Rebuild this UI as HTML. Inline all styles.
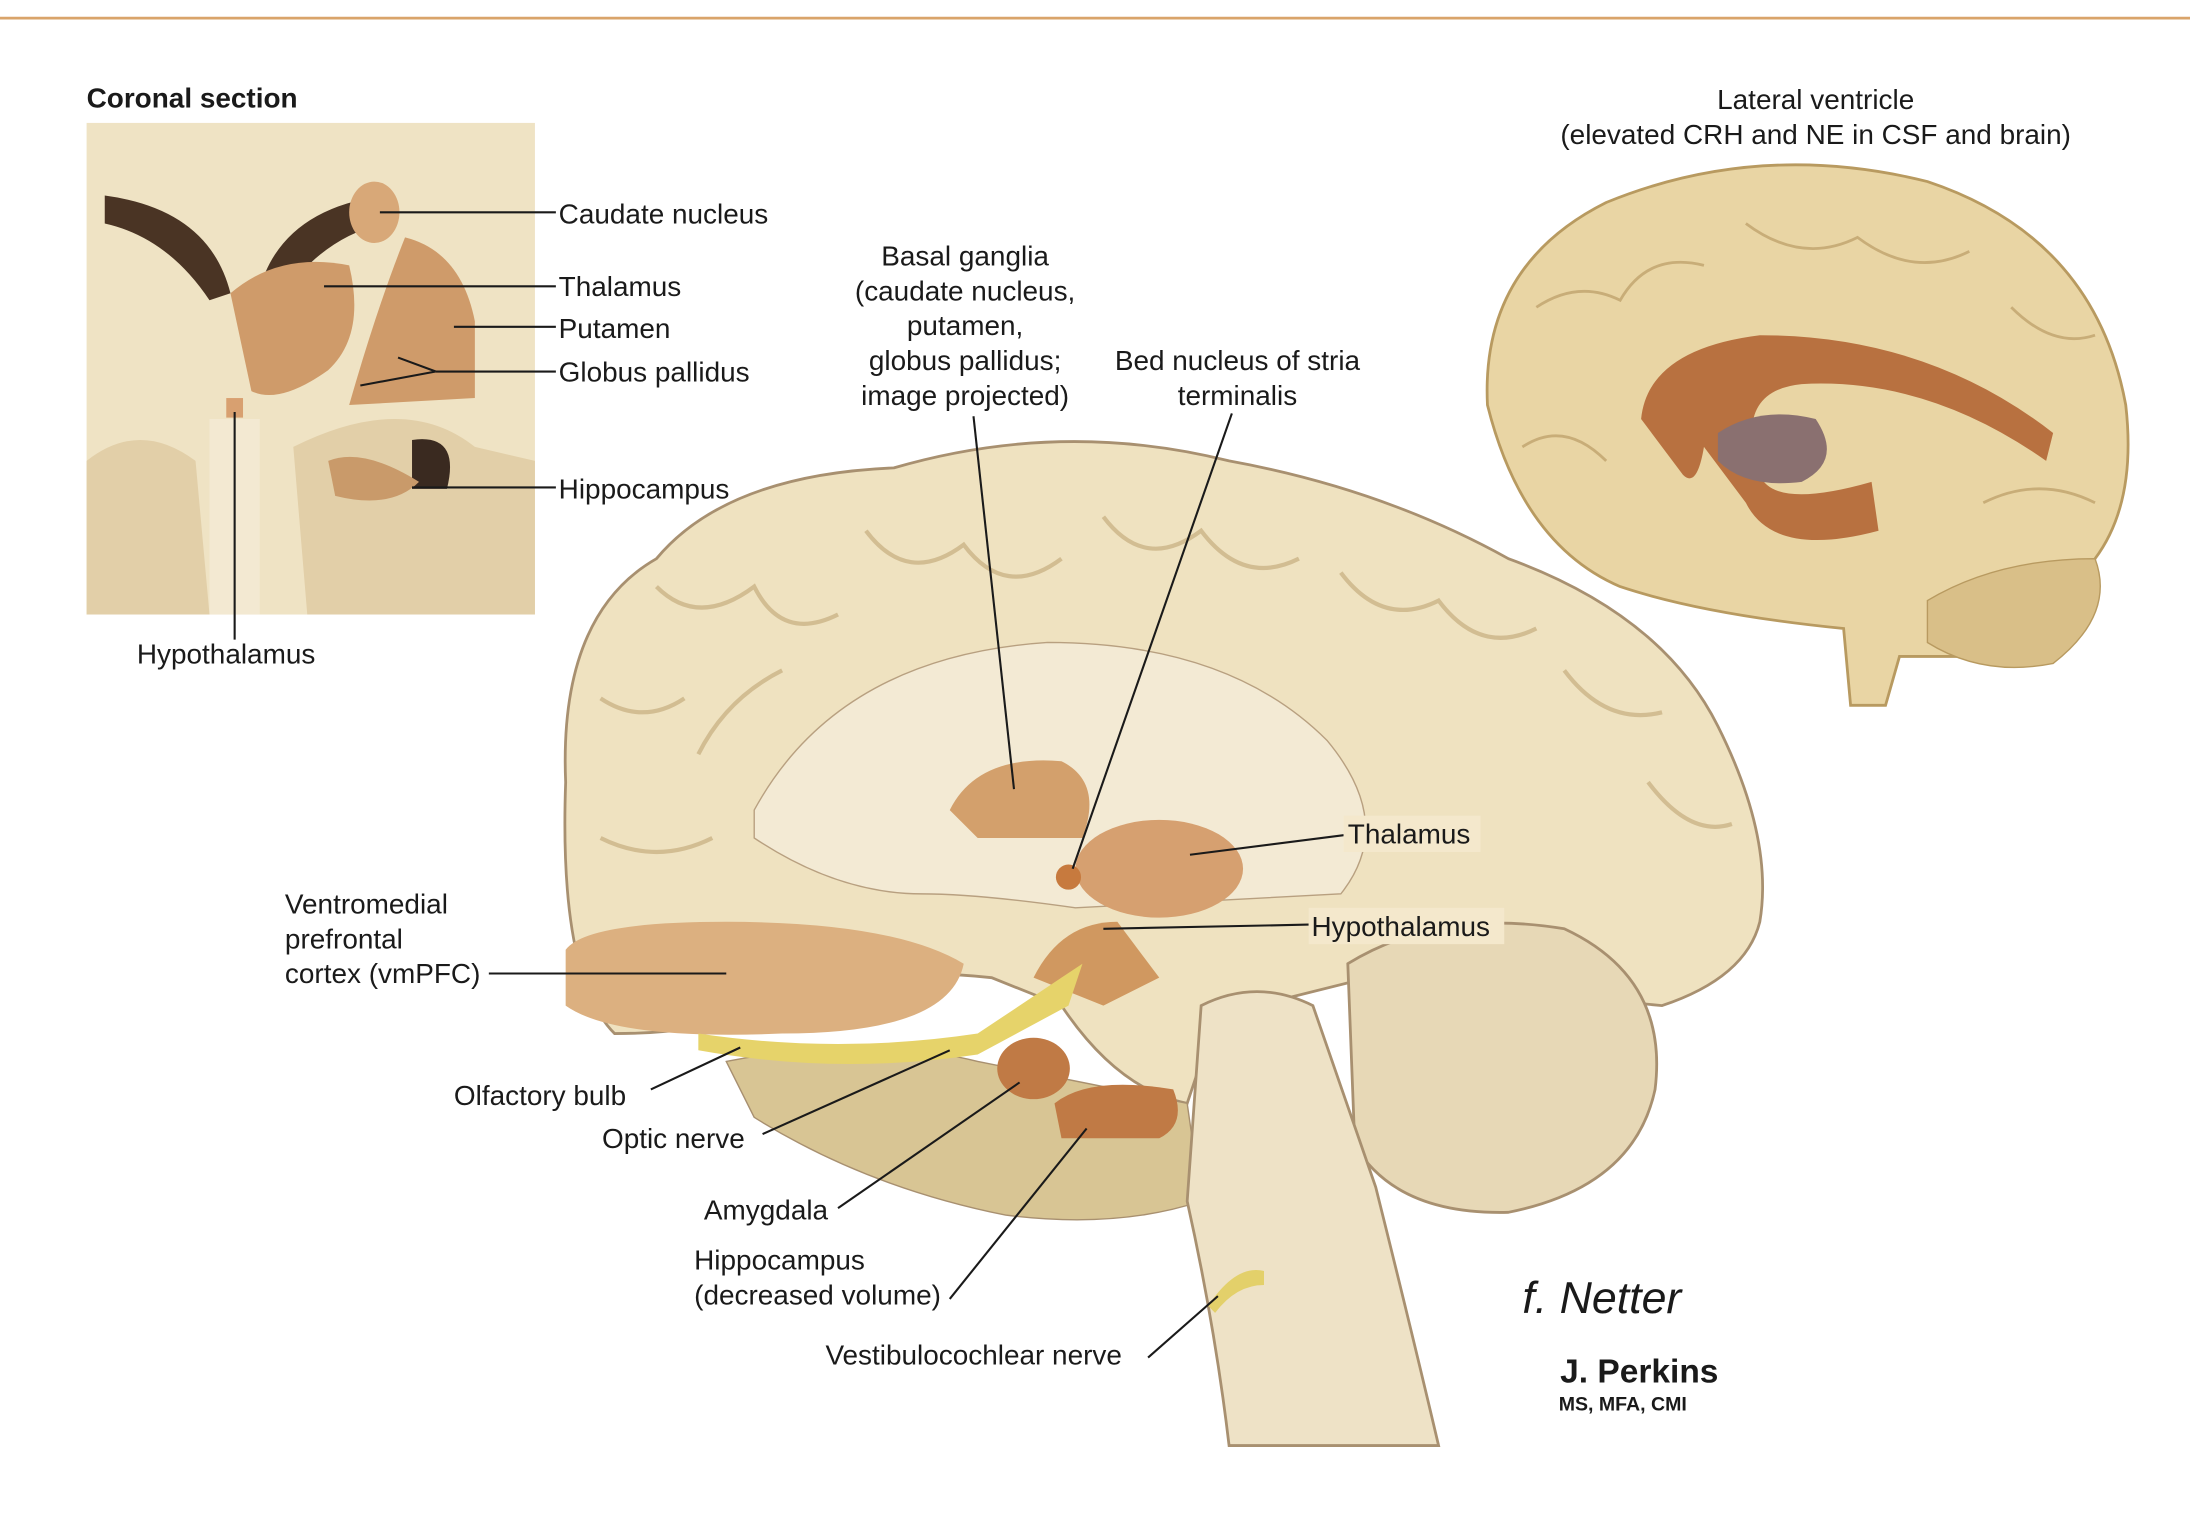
<!DOCTYPE html>
<html><head><meta charset="utf-8"><style>
html,body{margin:0;padding:0;background:#fff;}
svg{display:block;}
text{font-family:"Liberation Sans",sans-serif;fill:#1a1a1a;}
</style></head><body>
<svg width="2190" height="1514" viewBox="0 0 1568 1084" preserveAspectRatio="none" xmlns="http://www.w3.org/2000/svg">
<rect width="1568" height="1084" fill="#fff"/>
<line x1="0" y1="13" x2="1568" y2="13" stroke="#d9a46a" stroke-width="2"/>
<text x="1180" y="-1" font-size="22" fill="#888">Global Brain Functions</text>

<!-- Coronal section -->
<text x="62" y="77" font-size="20" font-weight="bold">Coronal section</text>
<rect x="62" y="88" width="321" height="352" fill="#efe3c4"/>
<path d="M62 330 Q100 300 140 330 L150 440 L62 440Z" fill="#e2cfa8"/>
<path d="M210 320 Q290 280 340 320 L383 330 L383 440 L220 440Z" fill="#e2cfa8"/>
<path d="M75 140 Q150 150 165 210 L150 215 Q120 170 75 160Z" fill="#4a3424"/>
<path d="M275 140 Q200 150 185 210 L200 215 Q230 170 275 160Z" fill="#4a3424"/>
<ellipse cx="268" cy="152" rx="18" ry="22" fill="#d8a878"/>
<path d="M165 210 Q200 180 250 190 Q262 240 235 265 Q200 290 180 280Z" fill="#cf9b6a"/>
<path d="M290 170 Q330 180 340 230 L340 285 L250 290 Q270 220 290 170Z" fill="#cf9b6a"/>
<path d="M295 315 Q330 310 320 350 L295 350Z" fill="#3a2a20"/>
<path d="M235 330 Q260 320 300 345 Q280 365 240 355Z" fill="#c99a6a"/>
<rect x="162" y="285" width="12" height="14" fill="#d8a070"/>
<rect x="150" y="300" width="36" height="140" fill="#f3e9d2"/>

<g stroke="#1a1a1a" stroke-width="1.5" fill="none">
<line x1="272" y1="152" x2="398" y2="152"/>
<line x1="232" y1="205" x2="398" y2="205"/>
<line x1="325" y1="234" x2="398" y2="234"/>
<line x1="258" y1="276" x2="312" y2="266"/><line x1="285" y1="256" x2="312" y2="266"/><line x1="312" y1="266" x2="398" y2="266"/>
<line x1="295" y1="349" x2="398" y2="349"/>
<line x1="168" y1="295" x2="168" y2="458"/>
</g>
<text x="400" y="160" font-size="20">Caudate nucleus</text>
<text x="400" y="212" font-size="20">Thalamus</text>
<text x="400" y="242" font-size="20">Putamen</text>
<text x="400" y="273" font-size="20">Globus pallidus</text>
<text x="400" y="357" font-size="20">Hippocampus</text>
<text x="98" y="475" font-size="20">Hypothalamus</text>

<!-- Right small brain -->
<text x="1300" y="78" font-size="20" text-anchor="middle">Lateral ventricle</text>
<text x="1300" y="103" font-size="20" text-anchor="middle">(elevated CRH and NE in CSF and brain)</text>
<path d="M1065 290 Q1060 190 1150 145 Q1260 100 1380 130 Q1500 170 1522 290 Q1530 360 1500 400 Q1480 450 1420 470 L1360 470 L1350 505 L1325 505 L1320 450 Q1220 440 1160 420 Q1090 390 1065 290Z" fill="#e9d5a4" stroke="#b89a60" stroke-width="2"/>
<g stroke="#c8ad78" stroke-width="2" fill="none">
<path d="M1100 220 Q1130 200 1160 215 Q1180 180 1220 190"/>
<path d="M1250 160 Q1290 190 1330 170 Q1370 200 1410 180"/>
<path d="M1440 220 Q1470 250 1500 240"/>
<path d="M1090 320 Q1120 300 1150 330"/>
<path d="M1420 360 Q1460 340 1500 360"/>
</g>
<path d="M1380 430 Q1430 400 1500 400 Q1515 440 1470 475 Q1420 485 1380 460Z" fill="#d9bf88" stroke="#b89a60"/>
<path d="M1175 300 Q1180 250 1260 240 Q1380 240 1470 310 L1465 330 Q1380 270 1290 275 Q1240 280 1260 340 Q1270 365 1340 345 L1345 380 Q1270 400 1250 360 L1220 320 Q1215 350 1205 340Z" fill="#b87140"/>
<path d="M1230 310 Q1260 290 1300 300 Q1320 330 1290 345 Q1250 350 1230 330Z" fill="#8a7070"/>

<!-- Main brain -->
<path d="M405 560 Q400 440 470 400 Q520 340 640 335 Q760 300 880 330 Q990 350 1080 400 Q1190 440 1230 520 Q1270 600 1260 660 Q1250 700 1190 720 L980 700 L900 720 L860 760 L850 790 Q800 780 760 720 L710 700 Q620 690 560 720 Q510 740 440 740 Q400 700 405 560Z" fill="#efe2c0" stroke="#a89070" stroke-width="2"/>
<g stroke="#d2bd92" stroke-width="3" fill="none">
<path d="M470 420 Q500 450 540 420 Q560 460 600 440"/>
<path d="M620 380 Q650 420 690 390 Q720 430 760 400"/>
<path d="M790 370 Q820 410 860 380 Q890 420 930 400"/>
<path d="M960 410 Q990 450 1030 430 Q1060 470 1100 450"/>
<path d="M1120 480 Q1150 520 1190 510"/>
<path d="M1180 560 Q1210 600 1240 590"/>
<path d="M430 500 Q460 520 490 500"/>
<path d="M430 600 Q470 620 510 600"/>
<path d="M500 540 Q520 500 560 480"/>
</g>
<path d="M520 760 Q620 740 700 760 L850 790 L860 860 Q800 880 720 870 Q620 850 540 800Z" fill="#d8c594" stroke="#a89070"/>
<path d="M965 690 Q1030 650 1120 665 Q1195 700 1185 780 Q1170 850 1080 868 Q1000 870 970 820Z" fill="#e7d8b6" stroke="#a89070" stroke-width="2"/>
<path d="M860 720 Q900 700 940 720 L985 850 Q1010 950 1030 1035 L880 1035 Q870 950 850 860Z" fill="#eee2c6" stroke="#a89070" stroke-width="2"/>
<path d="M540 580 Q600 470 750 460 Q880 460 950 530 Q1000 590 960 640 L770 650 Q700 640 660 640 Q600 640 540 600Z" fill="#f3ead4" stroke="#b8a080"/>
<path d="M680 580 Q700 540 760 545 Q790 560 775 600 L700 600Z" fill="#d3a06c"/>
<ellipse cx="830" cy="622" rx="60" ry="35" fill="#d6a070"/>
<ellipse cx="765" cy="628" rx="9" ry="9" fill="#c77a3e"/>
<path d="M740 700 Q760 660 800 660 L830 700 L790 720Z" fill="#d09860"/>
<path d="M405 680 Q420 660 520 660 Q640 660 690 690 Q680 740 560 740 Q440 745 405 720Z" fill="#dcb080"/>
<path d="M500 740 Q600 755 700 740 L760 700 L775 690 L765 720 L700 755 Q600 770 500 752Z" fill="#e6d36a"/>
<ellipse cx="740" cy="765" rx="26" ry="22" fill="#c07a45"/>
<path d="M755 790 Q780 770 840 780 Q850 805 830 815 L760 815Z" fill="#c07a45"/>
<path d="M865 935 Q885 905 905 910 L905 920 Q885 920 870 940Z" fill="#e3d06a"/>

<g stroke="#1a1a1a" stroke-width="1.5" fill="none">
<line x1="697" y1="298" x2="726" y2="565"/>
<line x1="882" y1="296" x2="768" y2="622"/>
<line x1="852" y1="612" x2="962" y2="598"/>
<line x1="790" y1="665" x2="937" y2="662"/>
<line x1="350" y1="697" x2="520" y2="697"/>
<line x1="466" y1="780" x2="530" y2="750"/>
<line x1="546" y1="812" x2="680" y2="752"/>
<line x1="600" y1="865" x2="730" y2="775"/>
<line x1="680" y1="930" x2="778" y2="808"/>
<line x1="822" y1="972" x2="872" y2="928"/>
</g>
<text x="691" y="190" font-size="20" text-anchor="middle">Basal ganglia</text>
<text x="691" y="215" font-size="20" text-anchor="middle">(caudate nucleus,</text>
<text x="691" y="240" font-size="20" text-anchor="middle">putamen,</text>
<text x="691" y="265" font-size="20" text-anchor="middle">globus pallidus;</text>
<text x="691" y="290" font-size="20" text-anchor="middle">image projected)</text>
<text x="886" y="265" font-size="20" text-anchor="middle">Bed nucleus of stria</text>
<text x="886" y="290" font-size="20" text-anchor="middle">terminalis</text>
<rect x="962" y="584" width="98" height="26" fill="#f4e8cc"/>
<text x="965" y="604" font-size="20">Thalamus</text>
<rect x="937" y="650" width="140" height="26" fill="#f4e8cc"/>
<text x="939" y="670" font-size="20">Hypothalamus</text>
<text x="204" y="654" font-size="20">Ventromedial</text>
<text x="204" y="679" font-size="20">prefrontal</text>
<text x="204" y="704" font-size="20">cortex (vmPFC)</text>
<text x="325" y="791" font-size="20">Olfactory bulb</text>
<text x="431" y="822" font-size="20">Optic nerve</text>
<text x="504" y="873" font-size="20">Amygdala</text>
<text x="497" y="909" font-size="20">Hippocampus</text>
<text x="497" y="934" font-size="20">(decreased volume)</text>
<text x="591" y="977" font-size="20">Vestibulocochlear nerve</text>

<text x="1090" y="940" font-size="32" font-style="italic" font-family="Liberation Serif">f. Netter</text>
<text x="1117" y="990" font-size="24" font-weight="bold">J. Perkins</text>
<text x="1116" y="1010" font-size="14" font-weight="bold">MS, MFA, CMI</text>
</svg>
</body></html>
